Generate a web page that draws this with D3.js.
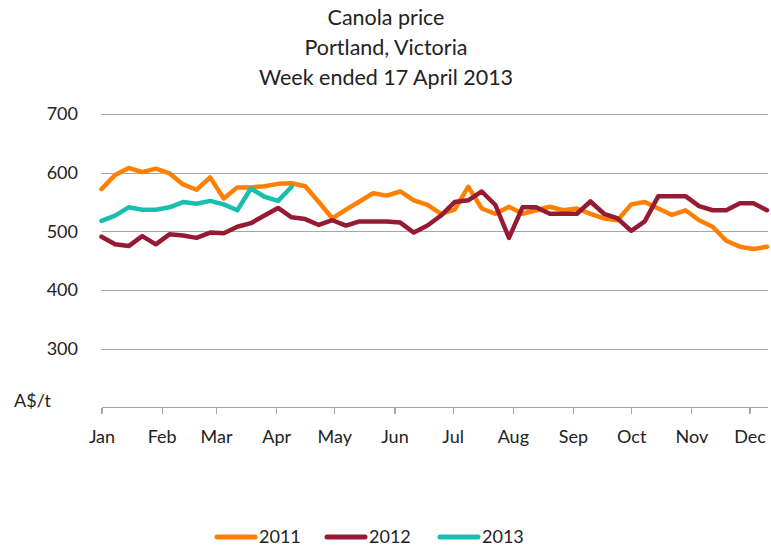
<!DOCTYPE html>
<html lang="en">
<head>
  <meta charset="UTF-8">
  <title>Canola price</title>
  <script src="https://d3js.org/d3.v7.min.js"></script>
  <style>
    body {
      margin: 0;
      background: #fff;
      font-family: Lato, "Open Sans", sans-serif;
    }

    .grid line {
      stroke: #a6a6a6;
      stroke-width: 1.2px;
    }

    .x.axis path,
    .x.axis line {
      stroke: #a6a6a6;
      stroke-width: 1.2px;
      shape-rendering: crispEdges;
    }

    .line {
      fill: none;
      stroke-width: 4.5px;
      stroke-linejoin: round;
      stroke-linecap: round;
    }

    text {
      fill: #222;
      font-size: 18px;
    }

    .title {
      font-size: 21.5px;
    }
  </style>
</head>
<body>
  <script>
    // weekly prices, A$/t (one value per week from early January)
    const years = ["2011", "2012", "2013"];
    const colors = ["#ff8000", "#961a32", "#19bfae"];

    const price2011 = [572, 596, 608, 601, 607, 599, 580, 571, 592, 556,
      575, 575, 577, 581, 582, 577, 550, 522, 537, 551,
      565, 561, 568, 553, 545, 530, 537, 576, 539, 530,
      542, 530, 536, 542, 536, 539, 530, 522, 519, 546,
      550, 539, 528, 536, 519, 508, 484, 474, 470, 474];

    const price2012 = [491, 478, 475, 492, 478, 495, 493, 489, 498, 497,
      508, 514, 527, 540, 524, 521, 511, 519, 510, 517,
      517, 517, 515, 498, 510, 527, 550, 553, 568, 545,
      489, 541, 541, 530, 530, 530, 551, 530, 522, 501,
      517, 560, 560, 560, 543, 536, 536, 548, 548, 536];

    const price2013 = [518, 527, 541, 537, 537, 541, 550, 547, 552, 546,
      536, 573, 559, 552, 576];

    const months = ["Jan", "Feb", "Mar", "Apr", "May", "Jun",
      "Jul", "Aug", "Sep", "Oct", "Nov", "Dec"];
    const monthStartDay = [0, 31, 59, 90, 120, 151, 181, 212, 243, 273, 304, 334];
    const yTicks = [300, 400, 500, 600, 700];
    const titleLines = ["Canola price", "Portland, Victoria", "Week ended 17 April 2013"];

    const width = 771;
    const height = 550;

    const svg = d3.select("body").append("svg")
      .attr("width", width).attr("height", height);

    // day of year -> x, price -> y
    const xScale = d3.scaleLinear().domain([0, 343]).range([101.5, 767]);
    const yScale = d3.scaleLinear().domain([200, 700]).range([407.5, 114]);

    // title
    svg.append("g").selectAll("text")
      .data(titleLines)
      .enter().append("text")
      .attr("class", "title")
      .attr("x", 386)
      .attr("y", (d, i) => 25 + i * 30)
      .attr("text-anchor", "middle")
      .text(d => d);

    // horizontal gridlines
    svg.append("g")
      .attr("class", "grid")
      .selectAll("line")
      .data(yTicks)
      .enter().append("line")
      .attr("x1", 101.5).attr("x2", 768)
      .attr("y1", d => Math.round(yScale(d)) + 0.5)
      .attr("y2", d => Math.round(yScale(d)) + 0.5);

    // y labels
    svg.append("g").selectAll("text")
      .data(yTicks)
      .enter().append("text")
      .attr("x", 78)
      .attr("y", d => yScale(d))
      .attr("dy", "0.35em")
      .attr("text-anchor", "end")
      .text(d => d);

    svg.append("text")
      .attr("x", 14).attr("y", 401)
      .attr("dy", "0.35em")
      .text("A$/t");

    // x axis with month ticks
    const xAxis = d3.axisBottom(xScale)
      .tickValues(monthStartDay)
      .tickFormat((d, i) => months[i])
      .tickSize(6)
      .tickSizeOuter(0)
      .tickPadding(17);

    const gx = svg.append("g")
      .attr("class", "x axis")
      .attr("transform", `translate(0, ${yScale(200)})`)
      .call(xAxis);
    gx.select(".domain").attr("d", `M${xScale(0)},0H768`);
    gx.selectAll("text")
      .style("font-family", "Lato, sans-serif")
      .style("font-size", "18px")
      .attr("fill", "#222");

    // lines
    const line = d3.line()
      .x((d, i) => xScale(i * 7))
      .y(d => yScale(d));

    svg.append("g").selectAll("path")
      .data([price2011, price2012, price2013])
      .enter().append("path")
      .attr("class", "line")
      .attr("d", line)
      .style("stroke", (d, i) => colors[i]);

    // legend
    const legendX = [215, 325, 438];
    const legend = svg.append("g").selectAll("g")
      .data(years)
      .enter().append("g")
      .attr("transform", (d, i) => `translate(${legendX[i]}, 537)`);

    legend.append("line")
      .attr("x1", 2).attr("x2", 40)
      .attr("y1", 0).attr("y2", 0)
      .style("stroke", (d, i) => colors[i])
      .style("stroke-width", 5)
      .style("stroke-linecap", "round");

    legend.append("text")
      .attr("x", 44)
      .attr("dy", "0.35em")
      .text(d => d);
  </script>
</body>
</html>
